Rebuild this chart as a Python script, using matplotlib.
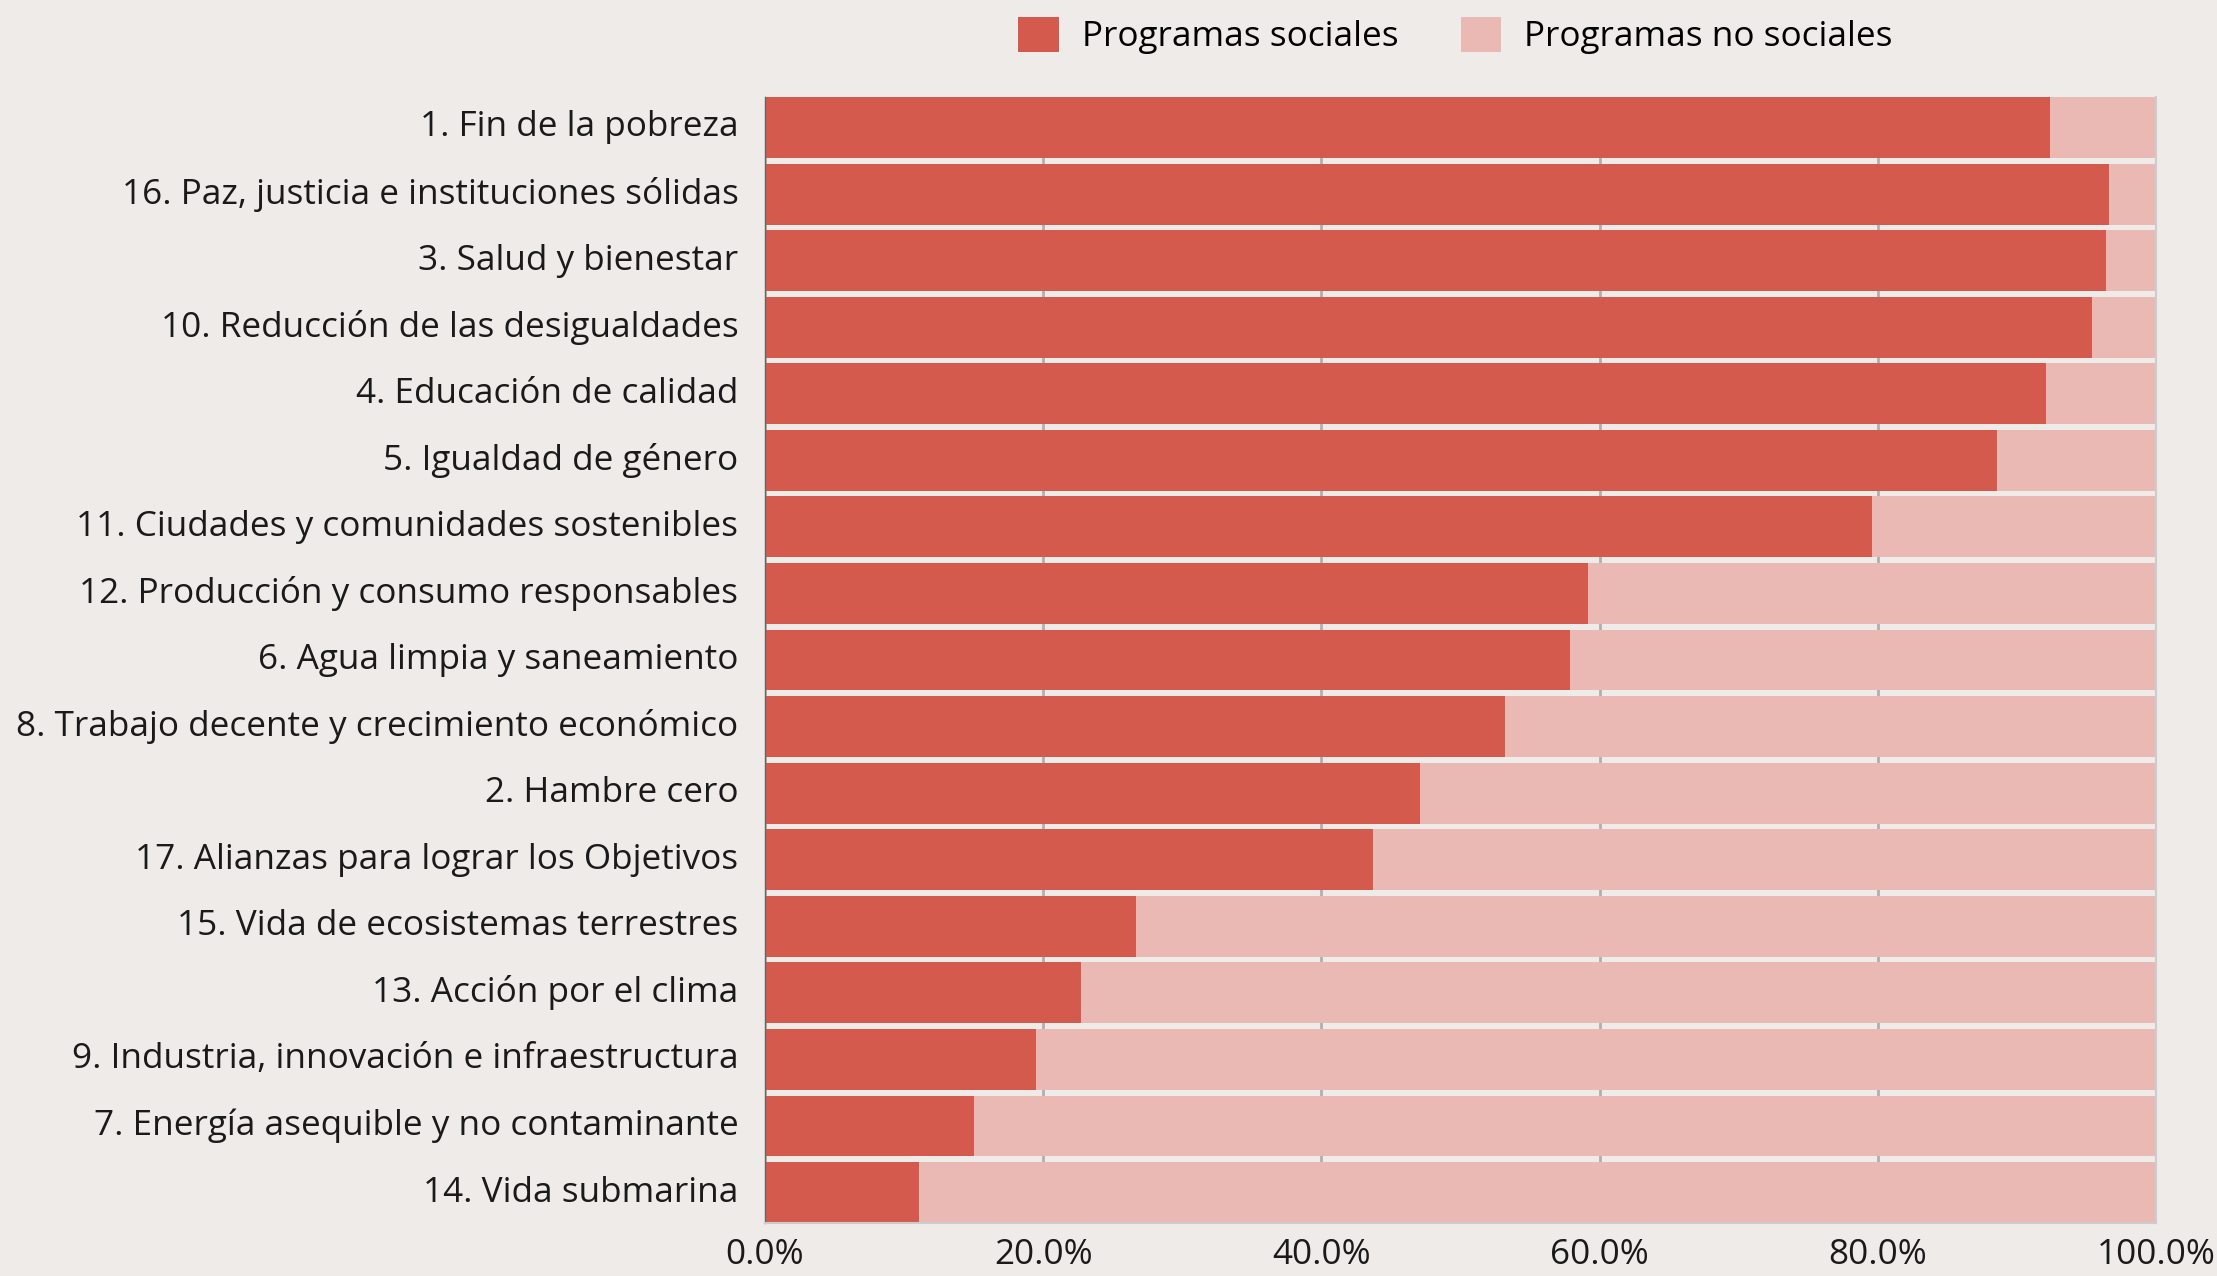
import matplotlib.pyplot as plt
from matplotlib.ticker import PercentFormatter

plt.rcParams['font.family'] = ['Open Sans', 'DejaVu Sans']

# ODS ordered as in the chart (top to bottom)
categorias = [
    "1. Fin de la pobreza",
    "16. Paz, justicia e instituciones sólidas",
    "3. Salud y bienestar",
    "10. Reducción de las desigualdades",
    "4. Educación de calidad",
    "5. Igualdad de género",
    "11. Ciudades y comunidades sostenibles",
    "12. Producción y consumo responsables",
    "6. Agua limpia y saneamiento",
    "8. Trabajo decente y crecimiento económico",
    "2. Hambre cero",
    "17. Alianzas para lograr los Objetivos",
    "15. Vida de ecosistemas terrestres",
    "13. Acción por el clima",
    "9. Industria, innovación e infraestructura",
    "7. Energía asequible y no contaminante",
    "14. Vida submarina",
]
sociales = [92.4, 96.6, 96.4, 95.4, 92.1, 88.6, 79.6, 59.2, 57.9, 53.2,
            47.1, 43.7, 26.7, 22.7, 19.5, 15.0, 11.1]
no_sociales = [100 - v for v in sociales]

bg = "#EFEBE8"
c_soc = "#D55A4E"
c_nosoc = "#EBB9B3"
fs = 25.3

fig = plt.figure(figsize=(22.17, 12.76), dpi=100, facecolor=bg)
ax = fig.add_axes([0.345, 0.0415, 0.6275, 0.8825])
ax.set_facecolor(bg)

y = list(range(len(categorias)))[::-1]
h = 0.916
ax.barh(y, sociales, height=h, color=c_soc, label="Programas sociales", zorder=2)
ax.barh(y, no_sociales, left=sociales, height=h, color=c_nosoc,
        label="Programas no sociales", zorder=2)

ax.set_xlim(0, 100)
ax.set_ylim(-h / 2, len(categorias) - 1 + h / 2)
ax.set_yticks(y)
ax.set_yticklabels(categorias, va="center")
ax.set_xticks([0, 20, 40, 60, 80, 100])
ax.xaxis.set_major_formatter(PercentFormatter(decimals=1))
ax.tick_params(axis="both", length=0, labelsize=fs, colors="#1a1a1a")
ax.tick_params(axis="y", pad=19)
ax.tick_params(axis="x", pad=11)
ax.grid(axis="x", color="#b0b0b0", linewidth=2, zorder=0)
ax.set_axisbelow(True)

for side in ["top", "right", "bottom"]:
    ax.spines[side].set_color("#cccccc")
    ax.spines[side].set_linewidth(1.5)
ax.spines["top"].set_visible(False)
ax.spines["left"].set_color("#666666")
ax.spines["left"].set_linewidth(1)

fig.legend(loc="center", bbox_to_anchor=(0.6565, 0.972), ncol=2, frameon=False,
           fontsize=fs, handlelength=1.15, handleheight=1.15, handletextpad=0.65,
           columnspacing=1.78)

fig.savefig("out.png", dpi=100, facecolor=bg)
